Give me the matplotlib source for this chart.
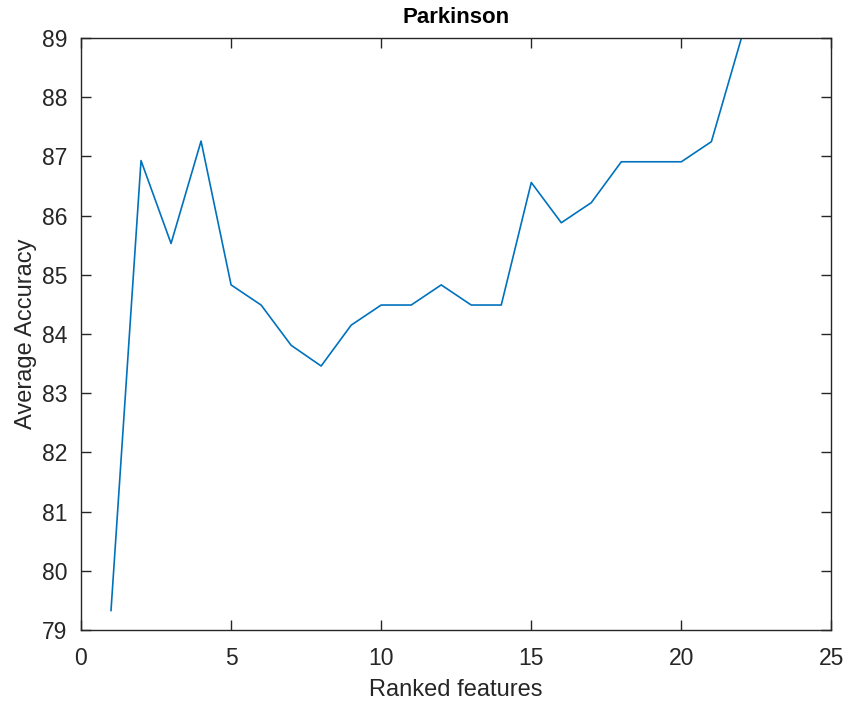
import matplotlib
matplotlib.use("Agg")
import matplotlib.pyplot as plt

# Values
n_features = list(range(1, 23))
avg_accuracy = [79.33, 86.93, 85.53, 87.26, 84.83, 84.49, 83.81, 83.46, 84.15, 84.49,
                84.49, 84.83, 84.49, 84.49, 86.56, 85.88, 86.22, 86.91, 86.91, 86.91,
                87.25, 89.00]
x_ticks = [0, 5, 10, 15, 20, 25]
y_ticks = list(range(79, 90))

plt.rcParams['font.family'] = ['Liberation Sans', 'DejaVu Sans']

fig = plt.figure(figsize=(8.48, 7.06), dpi=100)
ax = fig.add_axes([0.0955, 0.1076, 0.885, 0.8385])

ax.plot(n_features, avg_accuracy, color='#0072BD', linewidth=1.2)

ax.set_xlim(0, 25)
ax.set_ylim(79, 89)
ax.set_xticks(x_ticks)
ax.set_yticks(y_ticks)

axis_col = '#262626'
for sp in ax.spines.values():
    sp.set_color(axis_col)
    sp.set_linewidth(1.0)
ax.tick_params(direction='in', top=True, right=True, length=7, width=1.0,
               colors=axis_col, labelsize=16.5)
ax.tick_params(axis='x', pad=12)
ax.tick_params(axis='y', pad=10)

ax.set_xlabel('Ranked features', fontsize=17, color=axis_col, labelpad=7)
ax.set_ylabel('Average Accuracy', fontsize=17, color=axis_col, labelpad=3)
ax.set_title('Parkinson', fontsize=16, fontweight='bold', pad=11)

fig.savefig('out.png', dpi=100)
